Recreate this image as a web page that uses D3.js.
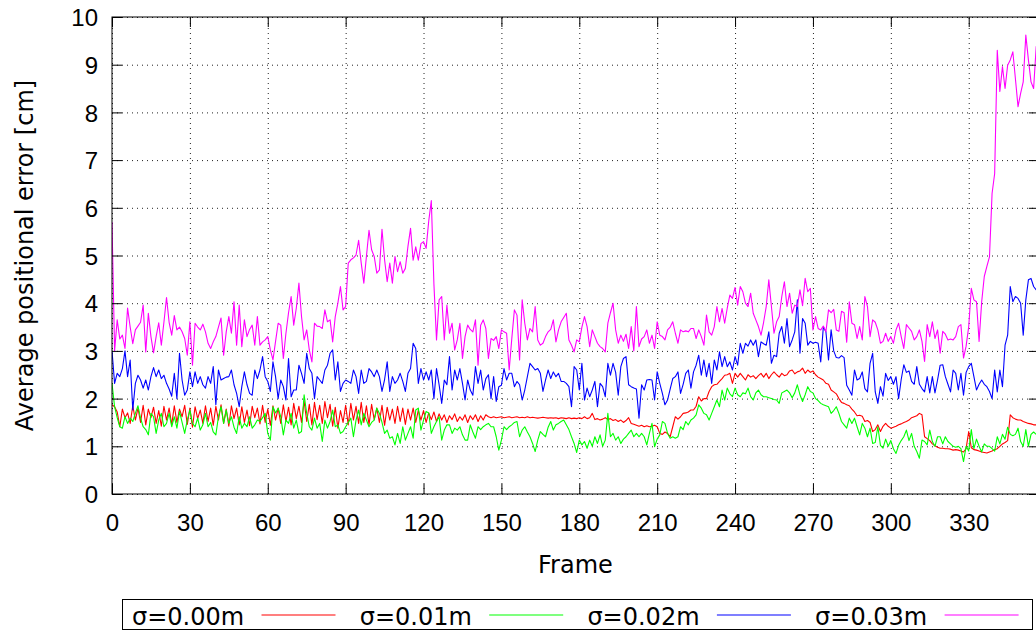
<!DOCTYPE html>
<html>
<head>
<meta charset="utf-8">
<script src="https://cdn.jsdelivr.net/npm/d3@7"></script>
<style>
  body { margin: 0; background: #fff; }
  svg { display: block; font-family: 'DejaVu Sans', sans-serif; }
  .grid line { stroke: #222; stroke-dasharray: 1,4; }
  .tick-mark line { stroke: #000; }
  .labels text { font-size: 24px; fill: #000; }
</style>
</head>
<body>
<svg id="chart" width="1036" height="630"></svg>
<script>
// values, one per frame (0..357)
const sigma000 = [
  1.87, 1.83, 1.72, 1.41, 1.78, 1.6, 1.7, 1.48, 1.85, 1.55,
  1.8, 1.5, 1.86, 1.45, 1.78, 1.6, 1.82, 1.48, 1.75, 1.42,
  1.84, 1.55, 1.8, 1.45, 1.85, 1.5, 1.78, 1.62, 1.86, 1.46,
  1.8, 1.4, 1.83, 1.58, 1.76, 1.48, 1.85, 1.52, 1.8, 1.44,
  1.84, 1.55, 1.87, 1.48, 1.78, 1.42, 1.85, 1.58, 1.8, 1.45,
  1.83, 1.5, 1.76, 1.43, 1.84, 1.6, 1.8, 1.47, 1.86, 1.5,
  1.78, 1.44, 1.85, 1.55, 1.8, 1.48, 1.87, 1.52, 1.82, 1.45,
  1.9, 1.58, 1.84, 1.5, 1.95, 1.52, 1.88, 1.45, 1.92, 1.56,
  1.86, 1.48, 1.94, 1.6, 1.88, 1.42, 1.82, 1.38, 1.75, 1.5,
  1.86, 1.45, 1.9, 1.55, 1.84, 1.48, 1.92, 1.5, 1.85, 1.45,
  1.88, 1.56, 1.8, 1.5, 1.86, 1.44, 1.82, 1.55, 1.78, 1.48,
  1.84, 1.52, 1.8, 1.46, 1.78, 1.55, 1.8, 1.5, 1.76, 1.55,
  1.75, 1.5, 1.7, 1.56, 1.72, 1.52, 1.68, 1.55, 1.66, 1.5,
  1.64, 1.56, 1.68, 1.52, 1.62, 1.55, 1.66, 1.5, 1.64, 1.56,
  1.66, 1.52, 1.64, 1.55, 1.66, 1.62, 1.6, 1.62, 1.6, 1.61,
  1.62, 1.6, 1.61, 1.62, 1.6, 1.61, 1.62, 1.6, 1.61, 1.6,
  1.62, 1.6, 1.61, 1.6, 1.59, 1.6, 1.61, 1.6, 1.59, 1.6,
  1.59, 1.6, 1.58, 1.6, 1.59, 1.58, 1.6, 1.58, 1.59, 1.58,
  1.6, 1.58, 1.62, 1.58, 1.6, 1.69, 1.56, 1.58, 1.55, 1.57,
  1.6, 1.56, 1.58, 1.54, 1.56, 1.52, 1.55, 1.5, 1.54, 1.6,
  1.48, 1.46, 1.44, 1.42, 1.44, 1.41, 1.43, 1.41, 1.42, 1.44,
  1.41, 1.27, 1.25, 1.3, 1.27, 1.2, 1.41, 1.62, 1.57, 1.62,
  1.69, 1.7, 1.72, 1.76, 1.76, 1.84, 2.04, 1.95, 2.0, 2.0,
  2.15, 2.25, 2.29, 2.3, 2.36, 2.42, 2.49, 2.5, 2.53, 2.32,
  2.53, 2.45, 2.53, 2.46, 2.39, 2.5, 2.45, 2.48, 2.42, 2.48,
  2.53, 2.45, 2.53, 2.42, 2.5, 2.56, 2.5, 2.45, 2.53, 2.48,
  2.5, 2.58, 2.6, 2.52, 2.56, 2.58, 2.64, 2.53, 2.6, 2.55,
  2.58, 2.5, 2.45, 2.42, 2.39, 2.32, 2.3, 2.18, 2.14, 2.1,
  2.0, 1.92, 1.9, 1.87, 1.85, 1.78, 1.72, 1.64, 1.65, 1.63,
  1.52, 1.54, 1.5, 1.31, 1.35, 1.45, 1.31, 1.42, 1.48, 1.42,
  1.38, 1.4, 1.42, 1.45, 1.47, 1.5, 1.52, 1.55, 1.6, 1.62,
  1.64, 1.69, 1.66, 1.2, 1.16, 1.12, 1.05, 1.01, 0.98, 0.96,
  0.96, 0.95, 0.95, 0.94, 0.92, 0.93, 0.92, 0.9, 0.88, 0.95,
  1.31, 0.97, 0.93, 0.92, 0.9, 0.88, 0.87, 0.86, 0.88, 0.9,
  0.93, 0.95, 1.0, 1.05, 1.08, 1.12, 1.66, 1.6, 1.57, 1.55,
  1.55, 1.52, 1.5, 1.48, 1.47, 1.45, 1.45, 1.44
];

const sigma001 = [
  2.32, 1.83, 1.6, 1.41, 1.38, 1.62, 1.48, 1.59, 1.52, 1.69,
  1.85, 1.59, 1.41, 1.35, 1.24, 1.69, 1.62, 1.27, 1.55, 1.69,
  1.41, 1.48, 1.69, 1.41, 1.62, 1.38, 1.73, 1.5, 1.27, 1.55,
  1.76, 1.48, 1.41, 1.59, 1.34, 1.45, 1.69, 1.41, 1.5, 1.3,
  1.24, 1.62, 1.83, 1.48, 1.76, 1.48, 1.62, 1.4, 1.27, 1.62,
  1.38, 1.48, 1.41, 1.62, 1.38, 1.45, 1.55, 1.52, 1.6, 1.69,
  1.27, 1.13, 1.83, 1.7, 1.8, 1.62, 1.24, 1.55, 1.48, 1.69,
  1.38, 1.55, 1.27, 1.31, 2.08, 1.69, 1.41, 1.34, 1.59, 1.38,
  1.48, 1.1, 1.55, 1.38, 1.52, 1.76, 1.41, 1.45, 1.27, 1.31,
  1.41, 1.5, 1.59, 1.2, 1.55, 1.76, 1.45, 1.69, 1.55, 1.41,
  1.5, 1.55, 1.8, 1.69, 1.5, 1.27, 1.34, 1.17, 1.2, 1.03,
  1.27, 1.06, 1.41, 1.13, 1.27, 1.41, 1.17, 1.76, 1.8, 1.34,
  1.55, 1.73, 1.7, 1.27, 1.41, 1.52, 1.62, 1.13, 1.34, 1.45,
  1.45, 1.27, 1.38, 1.34, 1.41, 1.24, 1.13, 1.13, 1.45, 1.3,
  1.17, 1.41, 1.35, 1.41, 1.45, 1.48, 1.41, 1.41, 1.2, 0.92,
  1.13, 1.41, 1.35, 1.41, 1.45, 1.5, 1.52, 1.2, 1.34, 1.41,
  1.3, 1.2, 1.06, 0.89, 1.13, 1.31, 1.25, 1.2, 1.4, 1.52,
  1.34, 1.45, 1.48, 1.52, 1.55, 1.45, 1.35, 1.2, 1.06, 0.87,
  1.13, 1.03, 1.1, 0.96, 1.13, 1.0, 1.2, 1.06, 1.24, 1.0,
  1.13, 1.69, 1.2, 1.27, 1.13, 1.2, 1.06, 1.15, 1.2, 1.27,
  1.34, 1.2, 1.27, 1.2, 1.27, 1.2, 1.03, 1.27, 1.48, 0.99,
  1.15, 1.24, 1.52, 1.48, 1.27, 1.17, 1.2, 1.17, 1.2, 1.41,
  1.35, 1.52, 1.45, 1.55, 1.59, 1.66, 1.87, 1.8, 1.69, 1.66,
  1.55, 1.69, 1.83, 1.97, 1.83, 2.18, 1.97, 2.22, 2.1, 2.04,
  2.22, 2.08, 2.04, 2.12, 2.1, 2.22, 2.04, 1.97, 2.12, 2.18,
  2.08, 2.04, 2.04, 2.02, 2.0, 1.98, 1.97, 1.9, 2.12, 2.15,
  2.18, 2.12, 2.02, 2.12, 2.29, 2.08, 1.94, 2.08, 2.25, 2.15,
  2.12, 2.0, 1.96, 1.9, 1.87, 1.85, 1.83, 1.69, 1.75, 1.83,
  1.69, 1.52, 1.45, 1.38, 1.59, 1.48, 1.59, 1.41, 1.24, 1.48,
  1.38, 1.2, 1.38, 1.06, 1.08, 1.41, 1.02, 0.96, 1.15, 1.0,
  1.12, 0.95, 0.85, 1.02, 1.12, 1.2, 1.34, 1.12, 1.27, 1.0,
  0.89, 0.75, 1.13, 1.1, 1.03, 1.34, 1.1, 1.0, 1.2, 1.2,
  1.05, 1.2, 1.1, 1.05, 1.0, 0.98, 1.0, 0.95, 0.68, 1.0,
  0.9, 1.35, 0.95, 1.15, 1.0, 0.88, 1.05, 1.0, 1.0, 0.95,
  0.9, 1.2, 1.05, 1.25, 1.15, 1.4, 1.25, 1.22, 1.25, 1.38,
  1.1, 1.0, 1.35, 1.0, 1.25, 1.3, 1.25, 1.2
];

const sigma002 = [
  3.0, 2.32, 2.53, 2.46, 2.63, 3.0, 2.46, 2.81, 1.76, 2.32,
  2.49, 2.39, 2.22, 2.39, 2.18, 2.46, 2.65, 2.46, 2.6, 2.42,
  2.49, 2.32, 2.2, 2.05, 2.53, 2.0, 2.95, 2.39, 2.07, 2.18,
  2.56, 2.25, 2.56, 2.32, 2.46, 2.29, 2.22, 2.46, 2.32, 2.67,
  1.87, 2.6, 2.39, 2.42, 2.45, 2.46, 2.6, 2.29, 2.11, 1.83,
  2.25, 2.56, 2.29, 2.11, 2.07, 2.6, 2.42, 2.6, 2.88, 2.46,
  2.36, 2.15, 2.77, 2.46, 2.0, 2.39, 2.25, 1.97, 2.84, 2.04,
  2.18, 2.18, 2.7, 2.53, 2.32, 2.95, 2.63, 2.53, 2.0, 2.46,
  2.39, 2.32, 2.6, 2.7, 2.95, 3.02, 2.39, 2.77, 2.15, 2.32,
  2.39, 2.36, 2.32, 2.6, 2.46, 2.11, 2.6, 2.32, 2.36, 2.63,
  2.56, 2.46, 2.6, 2.46, 2.15, 2.4, 2.77, 2.15, 2.46, 2.32,
  2.39, 2.53, 2.36, 2.15, 2.53, 2.63, 3.16, 3.05, 2.32, 2.63,
  2.39, 2.56, 2.39, 2.6, 2.0, 2.63, 2.29, 1.9, 2.39, 2.29,
  2.88, 2.18, 2.6, 2.39, 2.63, 2.32, 1.97, 2.39, 2.18, 2.07,
  2.67, 2.32, 2.6, 2.18, 2.42, 2.5, 2.0, 2.46, 1.94, 2.25,
  2.28, 2.63, 2.39, 2.53, 2.53, 2.25, 2.36, 2.29, 1.97, 2.18,
  2.46, 2.74, 2.67, 2.6, 2.63, 2.53, 2.15, 2.39, 2.6, 2.42,
  2.56, 2.46, 2.53, 2.36, 2.36, 2.32, 2.25, 1.83, 2.67, 2.6,
  2.18, 2.74, 1.97, 2.22, 2.04, 2.18, 2.36, 1.83, 2.32, 2.25,
  2.04, 2.74, 2.49, 2.74, 2.55, 2.07, 2.67, 2.84, 2.88, 2.29,
  2.25, 2.22, 2.2, 1.59, 2.29, 2.18, 2.39, 2.4, 2.39, 1.97,
  2.56, 2.32, 2.11, 1.87, 1.97, 2.2, 2.42, 2.46, 2.56, 2.11,
  2.3, 2.53, 2.6, 2.22, 2.56, 2.7, 2.91, 2.49, 2.81, 2.46,
  2.74, 2.32, 2.81, 2.6, 2.98, 2.67, 2.88, 2.67, 2.77, 2.6,
  2.88, 2.7, 3.16, 2.95, 3.16, 3.1, 3.23, 3.12, 3.23, 2.88,
  3.19, 3.15, 3.12, 3.4, 2.74, 2.91, 2.88, 3.37, 3.51, 3.16,
  3.68, 3.09, 3.23, 3.4, 4.07, 2.95, 3.68, 3.58, 3.12, 3.2,
  3.16, 3.18, 3.16, 2.77, 3.5, 3.4, 2.81, 3.44, 3.0, 2.86,
  2.85, 2.9, 2.86, 2.28, 2.18, 2.07, 2.6, 2.39, 2.42, 2.56,
  2.21, 2.14, 2.74, 2.95, 2.14, 1.9, 2.25, 2.05, 2.53, 2.38,
  2.46, 2.3, 2.46, 2.0, 2.4, 2.71, 2.55, 2.58, 2.36, 2.3,
  2.67, 2.3, 2.21, 2.14, 2.46, 2.12, 2.46, 2.12, 2.39, 2.7,
  2.71, 2.46, 2.3, 2.14, 2.6, 2.53, 2.18, 2.53, 2.07, 2.55,
  2.67, 2.74, 2.46, 2.18, 2.3, 2.39, 2.3, 2.25, 2.15, 2.0,
  2.6, 2.14, 2.6, 2.25, 3.12, 3.33, 4.35, 4.03, 4.14, 4.1,
  4.0, 3.33, 4.07, 4.49, 4.52, 4.35, 4.28, 4.3
];

const sigma003 = [
  5.7, 3.0, 3.65, 3.25, 3.33, 3.05, 3.9, 3.5, 3.15, 3.44,
  3.52, 3.6, 3.96, 2.98, 3.79, 3.3, 2.96, 3.3, 3.59, 3.12,
  3.6, 4.12, 3.6, 3.33, 3.74, 3.44, 3.5, 3.4, 3.26, 2.91,
  3.61, 2.7, 3.58, 3.5, 3.44, 3.56, 3.4, 3.16, 3.05, 3.19,
  3.3, 3.5, 3.69, 2.91, 3.4, 3.72, 3.37, 4.03, 3.12, 3.96,
  3.09, 3.65, 3.3, 3.45, 3.54, 3.12, 3.72, 3.12, 3.19, 3.23,
  3.3, 3.02, 2.81, 3.2, 3.58, 3.54, 2.84, 3.37, 3.8, 4.14,
  3.54, 3.9, 4.42, 3.72, 3.23, 3.44, 3.02, 2.77, 3.58, 3.52,
  3.51, 3.47, 3.86, 3.61, 3.65, 3.19, 3.72, 4.0, 4.35, 3.86,
  3.93, 4.84, 4.91, 4.95, 5.01, 5.32, 4.84, 4.42, 4.98, 5.53,
  5.12, 4.98, 4.63, 4.7, 5.55, 4.91, 4.45, 4.84, 4.42, 4.98,
  4.66, 4.87, 4.63, 4.73, 5.19, 5.57, 4.9, 5.18, 4.9, 5.25,
  5.29, 5.15, 5.72, 6.15, 4.4, 3.23, 4.07, 4.14, 3.23, 3.96,
  3.37, 3.58, 3.02, 3.23, 3.58, 2.84, 3.3, 3.54, 3.45, 3.4,
  3.65, 2.7, 3.54, 3.65, 3.47, 2.84, 3.26, 3.22, 3.3, 3.05,
  3.44, 3.4, 3.37, 2.6, 3.26, 3.86, 3.75, 2.81, 4.07, 3.58,
  3.23, 3.47, 3.4, 3.93, 3.23, 3.12, 3.16, 3.3, 3.4, 3.45,
  3.65, 3.19, 3.44, 3.61, 3.7, 3.79, 3.23, 3.12, 2.98, 3.23,
  3.19, 3.5, 3.72, 3.51, 3.09, 3.44, 3.3, 3.16, 3.09, 3.05,
  2.98, 3.58, 3.8, 4.0, 3.44, 3.16, 3.33, 3.2, 3.35, 3.05,
  3.51, 3.0, 3.93, 3.09, 3.25, 3.3, 3.44, 3.16, 3.33, 3.05,
  3.61, 3.33, 3.3, 3.23, 3.44, 3.5, 3.61, 3.37, 3.16, 3.44,
  3.4, 3.42, 3.4, 3.47, 3.47, 3.26, 3.44, 3.3, 3.12, 3.75,
  3.4, 3.33, 3.51, 3.93, 3.61, 3.89, 3.58, 3.9, 4.17, 4.1,
  4.33, 3.96, 4.35, 4.24, 4.0, 3.93, 4.21, 3.79, 3.65, 3.51,
  3.33, 3.6, 3.93, 4.49, 3.93, 3.37, 3.61, 3.72, 4.14, 4.45,
  3.93, 4.21, 3.79, 3.96, 3.93, 4.28, 3.95, 4.52, 4.24, 4.31,
  3.44, 3.72, 3.47, 3.44, 3.52, 3.4, 3.86, 3.8, 3.87, 3.44,
  3.41, 3.83, 3.8, 3.18, 4.03, 3.58, 3.55, 3.26, 3.51, 3.23,
  4.14, 3.93, 3.3, 3.65, 3.6, 3.44, 3.16, 3.2, 3.37, 3.2,
  3.3, 3.16, 3.44, 3.58, 3.3, 3.05, 3.55, 3.48, 3.41, 3.23,
  3.3, 3.44, 3.2, 2.78, 3.55, 3.3, 3.61, 3.26, 3.44, 2.95,
  3.41, 3.35, 3.23, 3.25, 3.23, 3.3, 3.51, 3.55, 2.85, 3.1,
  3.51, 4.31, 4.07, 4.03, 3.2, 4.03, 4.56, 4.77, 4.97, 6.3,
  6.72, 9.3, 8.44, 8.96, 8.5, 8.99, 9.1, 9.27, 8.7, 8.12,
  8.4, 8.64, 9.62, 9.1, 8.64, 8.5, 9.38, 9.0
];

const seriesLabels = ['σ=0.00m', 'σ=0.01m', 'σ=0.02m', 'σ=0.03m'];
const seriesColors = ['#ff0000', '#00ff00', '#0000ff', '#ff00ff'];
const xTicks = [0, 30, 60, 90, 120, 150, 180, 210, 240, 270, 300, 330];
const yTicks = [0, 1, 2, 3, 4, 5, 6, 7, 8, 9, 10];
const xTitle = 'Frame';
const yTitle = 'Average positional error [cm]';

const series = [sigma000, sigma001, sigma002, sigma003];
const frames = sigma000.map((d, i) => i);

// plot frame in pixels (right border falls just outside the window)
const plotLeft = 112;
const plotTop = 17;
const plotBottom = 494;
const plotRight = 1038.8;
const tickLen = 10;

const x = d3.scaleLinear()
            .domain([0, frames[frames.length - 1]])
            .range([plotLeft, plotRight]);

const y = d3.scaleLinear()
            .domain([0, 10])
            .range([plotBottom, plotTop]);

const svg = d3.select('#chart');

drawGrid();
drawLines();
drawAxes();
drawTitles();
drawLegend();

function drawGrid() {
  const grid = svg.append('g').attr('class', 'grid');

  grid.append('g')
      .attr('transform', 'translate(' + plotLeft + ',0)')
      .call(d3.axisLeft(y).tickValues(yTicks).tickSize(-(plotRight - plotLeft)).tickFormat(''))
      .call(g => g.select('.domain').remove());

  grid.append('g')
      .attr('transform', 'translate(0,' + plotBottom + ')')
      .call(d3.axisBottom(x).tickValues(xTicks).tickSize(-(plotBottom - plotTop)).tickFormat(''))
      .call(g => g.select('.domain').remove());
}

function drawLines() {
  svg.append('clipPath')
     .attr('id', 'plot-clip')
     .append('rect')
     .attr('x', plotLeft)
     .attr('y', plotTop)
     .attr('width', plotRight - plotLeft)
     .attr('height', plotBottom - plotTop);

  const line = d3.line()
                 .x((d, i) => x(frames[i]))
                 .y(d => y(d));

  svg.append('g')
     .attr('clip-path', 'url(#plot-clip)')
     .selectAll('path')
     .data(series)
     .enter()
     .append('path')
     .attr('d', line)
     .attr('fill', 'none')
     .attr('stroke', (d, i) => seriesColors[i])
     .attr('stroke-width', 1.1)
     .attr('stroke-linejoin', 'round');
}

function drawAxes() {
  // inward ticks on all four sides, labels on left and bottom
  const left = svg.append('g')
                  .attr('class', 'tick-mark labels')
                  .attr('transform', 'translate(' + plotLeft + ',0)')
                  .call(d3.axisLeft(y).tickValues(yTicks).tickSize(-tickLen).tickPadding(14));
  left.selectAll('text').attr('dy', '0.36em');

  svg.append('g')
     .attr('class', 'tick-mark labels')
     .attr('transform', 'translate(0,' + plotBottom + ')')
     .call(d3.axisBottom(x).tickValues(xTicks).tickSize(-tickLen).tickPadding(20));

  svg.append('g')
     .attr('class', 'tick-mark')
     .attr('transform', 'translate(0,' + plotTop + ')')
     .call(d3.axisTop(x).tickValues(xTicks).tickSize(-tickLen).tickFormat(''));

  svg.append('g')
     .attr('class', 'tick-mark')
     .attr('transform', 'translate(' + plotRight + ',0)')
     .call(d3.axisRight(y).tickValues(yTicks).tickSize(-tickLen).tickFormat(''));

  svg.selectAll('.domain').remove();

  svg.append('rect')
     .attr('x', plotLeft)
     .attr('y', plotTop)
     .attr('width', plotRight - plotLeft)
     .attr('height', plotBottom - plotTop)
     .attr('fill', 'none')
     .attr('stroke', '#000')
     .attr('stroke-width', 1);
}

function drawTitles() {
  svg.append('text')
     .attr('x', (plotLeft + plotRight) / 2)
     .attr('y', 573)
     .attr('text-anchor', 'middle')
     .style('font-size', '24px')
     .text(xTitle);

  svg.append('text')
     .attr('transform', 'translate(33,' + (plotTop + plotBottom) / 2 + ') rotate(-90)')
     .attr('text-anchor', 'middle')
     .style('font-size', '24px')
     .text(yTitle);
}

function drawLegend() {
  const step = 227.7;
  const group = svg.append('g').attr('id', 'legend');

  group.append('rect')
       .attr('x', 122.5)
       .attr('y', 599.5)
       .attr('width', 910)
       .attr('height', 30)
       .attr('fill', 'none')
       .attr('stroke', '#000');

  const entries = seriesLabels.map((label, i) => ({label: label, color: seriesColors[i], i: i}));

  group.selectAll('text.key')
       .data(entries)
       .enter()
       .append('text')
       .attr('class', 'key')
       .attr('x', d => 132 + d.i * step)
       .attr('y', 625)
       .style('font-size', '24px')
       .text(d => d.label);

  group.selectAll('line.key')
       .data(entries)
       .enter()
       .append('line')
       .attr('class', 'key')
       .attr('x1', d => 261.5 + d.i * step)
       .attr('x2', d => 335.5 + d.i * step)
       .attr('y1', 615)
       .attr('y2', 615)
       .style('stroke', d => d.color)
       .style('stroke-width', 1.1);
}
</script>
</body>
</html>
